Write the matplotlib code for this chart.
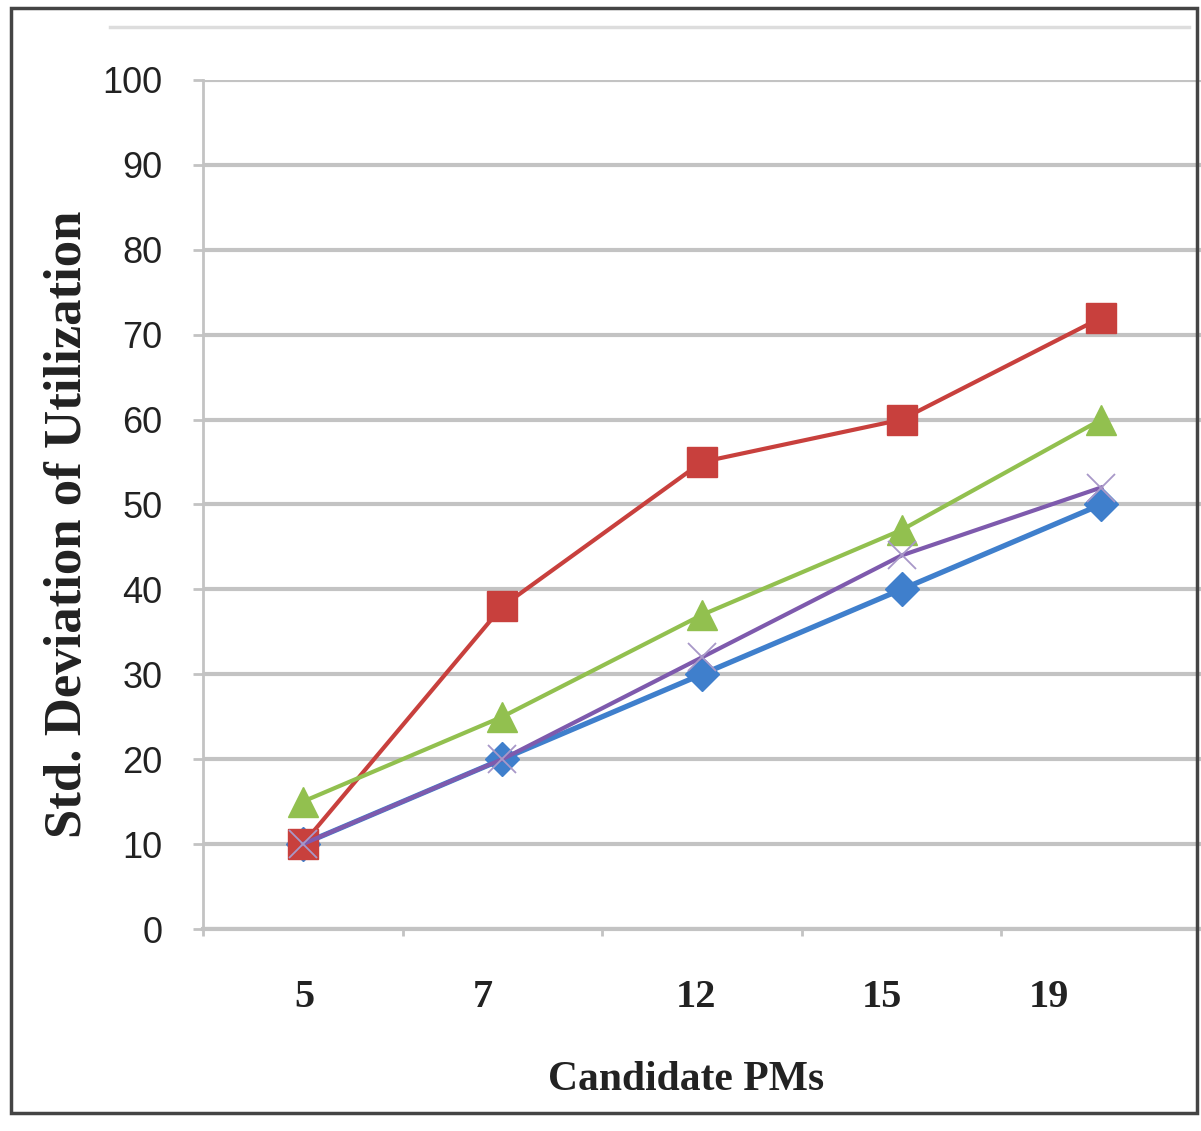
import matplotlib
import matplotlib.pyplot as plt
from matplotlib.patches import Rectangle
from matplotlib.lines import Line2D

matplotlib.use("Agg")

CATEGORIES = ["5", "7", "12", "15", "19"]
SERIES_BLUE = [10, 20, 30, 40, 50]
SERIES_RED = [10, 38, 55, 60, 72]
SERIES_GREEN = [15, 25, 37, 47, 60]
SERIES_PURPLE = [10, 20, 32, 44, 52]
Y_TICKS = list(range(0, 101, 10))

# labels under the axis sit a little off their category centre
LABEL_SHIFT = [0.01, -0.10, -0.03, -0.10, -0.26]

GRID = "#c3c3c3"
TEXT = "#222222"

fig = plt.figure(figsize=(12.01, 11.31), dpi=100)
ax = fig.add_axes([0.169, 0.1786, 0.831, 0.7507])

x = list(range(len(CATEGORIES)))

ax.plot(x, SERIES_BLUE, color="#3f7fcc", lw=3.8, marker="D", ms=17, zorder=3)
ax.plot(x, SERIES_RED, color="#c8403d", lw=3.0, marker="s", ms=22, zorder=4)
ax.plot(x, SERIES_GREEN, color="#92c04f", lw=3.0, marker="^", ms=22, zorder=5)
ax.plot(x, SERIES_PURPLE, color="#7e5aad", lw=3.0, marker="x", ms=20, mew=1.3,
		mec="#a898c8", zorder=6)

ax.set_xlim(-0.5, len(CATEGORIES) - 0.5)
ax.set_ylim(0, 100)

# grid and axes in light grey
ax.set_yticks(Y_TICKS)
ax.yaxis.grid(True, color=GRID, lw=3)
ax.set_axisbelow(True)
for side in ["top", "right"]:
	ax.spines[side].set_visible(False)
ax.spines["left"].set_color(GRID)
ax.spines["left"].set_linewidth(2)
ax.spines["bottom"].set_color(GRID)
ax.spines["bottom"].set_linewidth(3)
ax.tick_params(axis="y", length=7, width=2, color=GRID, pad=22, labelsize=26)
for lab in ax.get_yticklabels():
	lab.set_fontfamily("Liberation Sans")
	lab.set_color(TEXT)

ax.set_xticks([i + s for i, s in zip(x, LABEL_SHIFT)], CATEGORIES)
ax.tick_params(axis="x", length=0, pad=36, labelsize=29)
for lab in ax.get_xticklabels():
	lab.set_fontfamily("Liberation Serif")
	lab.set_fontweight("bold")
	lab.set_color(TEXT)
ax.set_xticks([i - 0.5 for i in x], minor=True)
ax.tick_params(axis="x", which="minor", length=5, width=2, color=GRID)

fig.text(0.057, 0.536, "Std. Deviation of Utilization", rotation=90, ha="center",
		 va="center", fontsize=38, family="Liberation Serif", fontweight="bold", color=TEXT)
fig.text(0.571, 0.045, "Candidate PMs", ha="center", va="center", fontsize=30,
		 family="Liberation Serif", fontweight="bold", color=TEXT)

# outer frame and thin rule at the top
fig.patches.append(Rectangle((0.009, 0.016), 0.988, 0.977, transform=fig.transFigure,
							 fill=False, ec="#444444", lw=2.5))
fig.lines.append(Line2D([0.092, 0.99], [0.976, 0.976], transform=fig.transFigure,
						color="#dddddd", lw=2.5))

fig.savefig("out.png")
plt.close(fig)
